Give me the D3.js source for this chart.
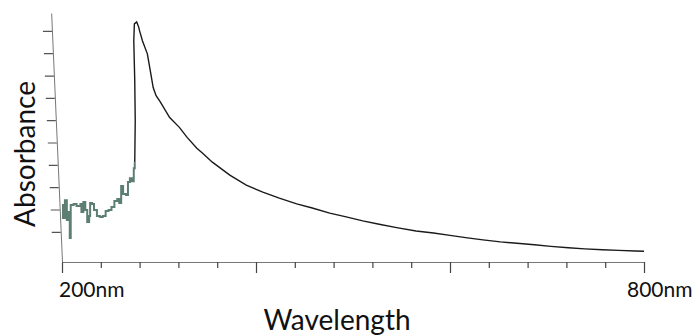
<!DOCTYPE html>
<html>
<head>
<meta charset="utf-8">
<script src="https://cdn.jsdelivr.net/npm/d3@7"></script>
<style>
  html, body { margin: 0; padding: 0; background: #fff; }
  svg { display: block; }
</style>
</head>
<body>
<svg id="chart" width="697" height="336"></svg>
<script>
// noisy region below the peak (nm, absorbance)
const noiseNm = [200, 201, 203, 205, 207, 208, 209, 212, 215, 219, 220, 222, 224, 226, 228, 229, 231, 233, 236, 239, 242, 245, 248, 251, 254, 257, 259, 261, 263, 266, 268, 270, 272, 274, 275];
const noiseAbs = [0.220, 0.162, 0.242, 0.153, 0.189, 0.073, 0.220, 0.225, 0.216, 0.225, 0.189, 0.234, 0.198, 0.144, 0.171, 0.229, 0.225, 0.198, 0.171, 0.167, 0.171, 0.193, 0.198, 0.211, 0.238, 0.247, 0.229, 0.305, 0.269, 0.265, 0.323, 0.340, 0.327, 0.385, 0.412];

// peak and tail
const peakNm = [275, 275.5, 275, 274, 274.6, 277, 279, 280, 283, 288, 291, 294, 297, 301, 311, 321, 329, 339, 345, 355, 373, 390, 407, 424, 442, 458, 476, 493, 510, 527, 545, 565, 583, 600, 618, 634, 652, 669, 687, 704, 722, 739, 757, 774, 791, 800];
const peakAbs = [0.412, 0.599, 0.777, 0.955, 1.031, 1.040, 1.018, 1.000, 0.955, 0.897, 0.822, 0.746, 0.710, 0.684, 0.612, 0.568, 0.523, 0.474, 0.452, 0.412, 0.354, 0.309, 0.278, 0.251, 0.225, 0.207, 0.184, 0.167, 0.149, 0.134, 0.119, 0.104, 0.095, 0.084, 0.073, 0.064, 0.055, 0.049, 0.042, 0.035, 0.029, 0.024, 0.020, 0.017, 0.014, 0.013];

const xTicks = [200, 240, 280, 320, 360, 400, 440, 480, 520, 560, 600, 640, 680, 720, 760, 800];
const xMajor = [200, 400, 600, 800];
const yTicks = [0.1, 0.2, 0.3, 0.4, 0.5, 0.6, 0.7, 0.8, 0.9, 1.0];
const xLabels = ["200nm", "800nm"];

const svg = d3.select("#chart");
const font = "Lato, 'Open Sans', sans-serif";
const baseY = 262;

const x = d3.scaleLinear().domain([200, 800]).range([62, 644]);
const y = d3.scaleLinear().domain([-0.035, 1.08]).range([baseY, 13]);

svg.append("rect").attr("width", 697).attr("height", 336).attr("fill", "#fff");

// x axis
const xAxis = svg.append("g").attr("transform", `translate(0,${baseY})`)
  .call(d3.axisBottom(x).tickValues(xTicks).tickSize(6).tickSizeOuter(0).tickFormat(""));
xAxis.select(".domain").attr("stroke", "#777").attr("stroke-width", 1);
xAxis.selectAll(".tick line").attr("stroke", "#444").attr("stroke-width", 1.2)
  .attr("y2", d => xMajor.includes(d) ? 11 : 6);

// y axis, a little slanted like the scan
const yAxis = svg.append("g")
  .attr("transform", `translate(62,${baseY}) skewX(2.5) translate(0,${-baseY})`)
  .call(d3.axisLeft(y).tickValues(yTicks).tickSize(9).tickSizeOuter(0).tickFormat(""));
yAxis.select(".domain").attr("stroke", "#777").attr("stroke-width", 1);
yAxis.selectAll(".tick line").attr("stroke", "#555").attr("stroke-width", 1.2);

const line = d3.line().x(d => x(d[0])).y(d => y(d[1]));

// noisy part
svg.append("path")
  .datum(d3.zip(noiseNm, noiseAbs))
  .attr("d", line.curve(d3.curveStepAfter))
  .attr("fill", "none").attr("stroke", "#5d7f73").attr("stroke-width", 2);

svg.append("path")
  .datum(d3.zip(peakNm, peakAbs))
  .attr("d", line.curve(d3.curveLinear))
  .attr("fill", "none").attr("stroke", "#1a1a1a").attr("stroke-width", 1.4);

// labels
svg.append("text").attr("x", 59).attr("y", 297).text(xLabels[0])
  .attr("font-family", font).attr("font-size", 21).attr("fill", "#111");
svg.append("text").attr("x", 627).attr("y", 297).text(xLabels[1])
  .attr("font-family", font).attr("font-size", 21).attr("fill", "#111");

svg.append("text").attr("x", 337).attr("y", 330).attr("text-anchor", "middle")
  .text("Wavelength").attr("font-family", font).attr("font-size", 28).attr("fill", "#111");

svg.append("text").attr("transform", "translate(35,154) rotate(-90)").attr("text-anchor", "middle")
  .text("Absorbance").attr("font-family", font).attr("font-size", 28).attr("fill", "#111");
</script>
</body>
</html>
